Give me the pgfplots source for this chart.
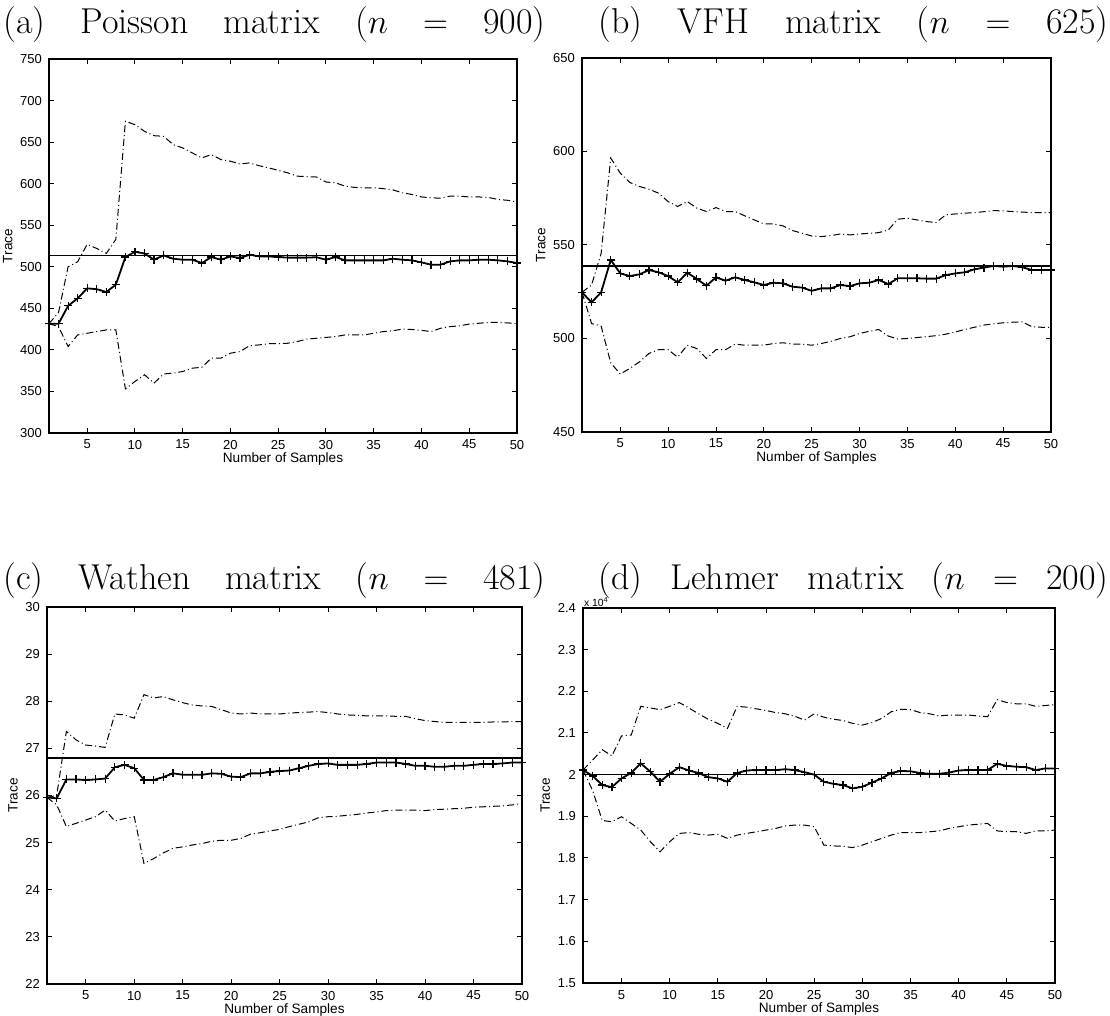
\documentclass[border=0pt]{standalone}
\usepackage{fontspec}
\newfontfamily\hv{Liberation Sans}
\usepackage{pgfplots}
\usepackage{pgfplotstable}
\pgfplotsset{compat=1.18}

\pgfplotstableread{
k mean up lo
1 431.5 431.5 431.5
2 431.5 445 428
3 453 500 404
4 462 506 418
5 474 527 420
6 473 522 422
7 469.6 516 424
8 478.5 533 424
9 511.7 675 353
10 518 671 362
11 516 663 370
12 508.5 657.7 360
13 513.7 657 371
14 509.7 647 372
15 508.5 643 374
16 508.5 637 378
17 504.5 631 379
18 511.7 635 390
19 508.5 629 390
20 512.5 627 396
21 510.5 623.6 398
22 514.5 625 405
23 512.5 621.6 406
24 512.5 619 407.5
25 511.7 616 407.5
26 511 613 408
27 511 609 410
28 511 608.5 413
29 511.5 608 414
30 508.5 602 415
31 511.7 601 416
32 507.7 597 418
33 507.7 595.5 418
34 507.7 595 418
35 507.7 595 420
36 507.7 594 422
37 509.7 592.5 423
38 508.5 589 425
39 507.7 587 424.5
40 505.3 584 423.5
41 502.5 583 422
42 502.5 582.5 426
43 506.5 585 428
44 507.7 585 429
45 507.7 584 431
46 508.5 584 432
47 508.5 583.5 433
48 507.7 581 433
49 506.5 580 432.5
50 504.5 578 431.5
}\tabA

\pgfplotstableread{
k mean up lo
1 524.7 524.7 524.7
2 519.3 528.6 508
3 524.7 545.5 506.6
4 542 596.5 487
5 534.8 588.4 481
6 533.4 583.4 484
7 534.3 581.3 487.5
8 536.6 579.8 492
9 535.4 577.7 494
10 533.4 573.2 494
11 530 570.6 490
12 535.2 573.2 496.4
13 531.8 569.7 494.6
14 528.2 567.9 489.3
15 532.7 570 494
16 530.9 567.9 494
17 532.7 567.9 497
18 531.3 565.6 496.4
19 530 563.4 496.4
20 528.6 561.3 496.4
21 529.8 561.3 497.3
22 529.5 560.2 497.7
23 527.7 557.7 497
24 527.2 556.3 497
25 525.5 554.8 496.4
26 526.8 554.5 497.3
27 526.8 555 498.5
28 528.6 555.9 500
29 528 555.4 500.9
30 529.5 555.9 502.7
31 529.8 556.2 503.8
32 531.3 556.6 504.8
33 529.1 558 501.3
34 532.2 563.8 499.7
35 532.2 564.3 500
36 532.2 563.4 500.5
37 532 562.5 501
38 532 562 501.5
39 533.9 566.1 502.3
40 534.8 566.6 503.5
41 535.4 567 504.8
42 537 567.3 506
43 537.9 567.8 507.2
44 538.8 568.4 507.8
45 538.4 568.2 508.4
46 538.8 567.9 508.7
47 538.1 567.6 508.9
48 536.6 567.3 506.3
49 536.6 567.3 506
50 536.6 567.3 505.9
}\tabB

\pgfplotstableread{
k mean up lo
1 25.96 25.96 25.96
2 25.94 26.0 25.8
3 26.34 27.36 25.34
4 26.34 27.18 25.41
5 26.33 27.07 25.48
6 26.34 27.05 25.55
7 26.36 27.02 25.69
8 26.6 27.73 25.46
9 26.65 27.71 25.51
10 26.58 27.64 25.55
11 26.33 28.14 24.56
12 26.33 28.07 24.66
13 26.39 28.1 24.78
14 26.47 28.03 24.88
15 26.44 27.97 24.91
16 26.44 27.92 24.95
17 26.44 27.9 24.98
18 26.47 27.89 25.03
19 26.46 27.82 25.05
20 26.4 27.75 25.05
21 26.39 27.73 25.09
22 26.47 27.75 25.18
23 26.47 27.73 25.21
24 26.5 27.73 25.25
25 26.52 27.73 25.28
26 26.53 27.75 25.34
27 26.58 27.76 25.39
28 26.63 27.77 25.44
29 26.67 27.78 25.53
30 26.68 27.76 25.55
31 26.65 27.73 25.56
32 26.65 27.71 25.58
33 26.65 27.70 25.6
34 26.67 27.69 25.63
35 26.7 27.69 25.65
36 26.7 27.69 25.68
37 26.7 27.68 25.69
38 26.67 27.68 25.69
39 26.63 27.63 25.69
40 26.63 27.59 25.68
41 26.61 27.57 25.7
42 26.61 27.55 25.71
43 26.63 27.55 25.72
44 26.63 27.55 25.73
45 26.65 27.55 25.75
46 26.67 27.55 25.76
47 26.67 27.56 25.77
48 26.68 27.56 25.78
49 26.7 27.57 25.8
50 26.7 27.57 25.83
}\tabC

\pgfplotstableread{
k mean up lo
1 2.011 2.011 2.011
2 1.997 2.035 1.962
3 1.975 2.06 1.89
4 1.970 2.045 1.887
5 1.991 2.093 1.899
6 2.004 2.095 1.883
7 2.027 2.164 1.867
8 2.007 2.16 1.839
9 1.983 2.156 1.815
10 2.002 2.164 1.839
11 2.018 2.173 1.859
12 2.010 2.16 1.861
13 2.004 2.146 1.857
14 1.994 2.133 1.855
15 1.991 2.123 1.857
16 1.983 2.111 1.847
17 2.004 2.164 1.855
18 2.010 2.162 1.859
19 2.011 2.158 1.863
20 2.011 2.154 1.867
21 2.011 2.149 1.871
22 2.013 2.146 1.877
23 2.011 2.14 1.879
24 2.006 2.131 1.879
25 2.0 2.146 1.875
26 1.983 2.138 1.831
27 1.978 2.133 1.829
28 1.975 2.13 1.828
29 1.967 2.123 1.825
30 1.971 2.119 1.831
31 1.981 2.125 1.839
32 1.991 2.135 1.847
33 2.004 2.151 1.855
34 2.009 2.157 1.861
35 2.008 2.156 1.861
36 2.004 2.149 1.861
37 2.002 2.146 1.863
38 2.002 2.141 1.865
39 2.005 2.143 1.871
40 2.010 2.143 1.875
41 2.011 2.143 1.879
42 2.011 2.141 1.881
43 2.011 2.139 1.883
44 2.026 2.18 1.865
45 2.021 2.173 1.863
46 2.019 2.17 1.863
47 2.018 2.17 1.859
48 2.011 2.164 1.865
49 2.015 2.166 1.865
50 2.015 2.168 1.867
}\tabD

\pgfplotsset{
  trace/.style={
    scale only axis, anchor=south west,
    xmin=1, xmax=50, xtick={5,10,...,50},
    tick align=inside, xtick pos=both, ytick pos=both,
    xticklabel pos=lower, yticklabel pos=left,
    major tick length=2.5pt,
    every tick/.style={black, line width=0.5pt},
    axis line style={line width=0.7pt},
    tick label style={font=\hv\fontsize{6.5}{7}\selectfont},
    /pgf/number format/assume math mode=true,
    label style={font=\hv\fontsize{6.8}{8}\selectfont},
    xlabel={Number of Samples}, ylabel={Trace},
    xlabel style={yshift=5pt},
    ylabel style={yshift=-3pt},
  },
  exact/.style={black, line width=0.8pt, no marks},
  mean/.style={black, line width=0.9pt, mark=+, mark size=2pt, mark options={line width=0.6pt, solid}},
  bound/.style={black, line width=0.5pt, no marks, dash pattern=on 3.5pt off 1.5pt on 0.5pt off 1.5pt},
}

\newcommand\ttl[2]{\makebox[#1][s]{\fontsize{18}{20}\selectfont #2}}

\begin{document}
\begin{tikzpicture}
\useasboundingbox (0,0) rectangle (555pt,508pt);

% titles
\node[anchor=base west, inner sep=0] at (1.5pt,491pt) {\ttl{271pt}{(a) Poisson matrix ($n$ $=$ 900)}};
\node[anchor=base west, inner sep=0] at (299pt,491pt) {\ttl{255pt}{(b) VFH matrix ($n$ $=$ 625)}};
\node[anchor=base west, inner sep=0] at (1.5pt,213pt) {\ttl{271pt}{(c) Wathen matrix ($n$ $=$ 481)}};
\node[anchor=base west, inner sep=0] at (299pt,213pt) {\ttl{255pt}{(d) Lehmer matrix ($n$ $=$ 200)}};

% (a)
\begin{axis}[trace, at={(24.5pt,291.5pt)}, width=234pt, height=187pt,
  ymin=300, ymax=750, ytick={300,350,...,750}]
\addplot[exact] coordinates {(1,513.4) (50,513.4)};
\addplot[bound] table[x=k,y=up] {\tabA};
\addplot[bound] table[x=k,y=lo] {\tabA};
\addplot[mean] table[x=k,y=mean] {\tabA};
\end{axis}

% (b)
\begin{axis}[trace, at={(291pt,292pt)}, width=234.5pt, height=187pt,
  ymin=450, ymax=650, ytick={450,500,...,650}]
\addplot[exact] coordinates {(1,538.7) (50,538.7)};
\addplot[bound] table[x=k,y=up] {\tabB};
\addplot[bound] table[x=k,y=lo] {\tabB};
\addplot[mean] table[x=k,y=mean] {\tabB};
\end{axis}

% (c)
\begin{axis}[trace, at={(23.5pt,16pt)}, width=237.5pt, height=188.5pt,
  ymin=22, ymax=30, ytick={22,23,...,30}]
\addplot[exact] coordinates {(1,26.8) (50,26.8)};
\addplot[bound] table[x=k,y=up] {\tabC};
\addplot[bound] table[x=k,y=lo] {\tabC};
\addplot[mean] table[x=k,y=mean] {\tabC};
\end{axis}

% (d)
\begin{axis}[trace, name=axd, at={(291.5pt,16.5pt)}, width=236pt, height=187.5pt,
  ymin=1.5, ymax=2.4, ytick={1.5,1.6,1.7,1.8,1.9,2.0,2.1,2.2,2.3,2.4},
  yticklabels={1.5,1.6,1.7,1.8,1.9,2,2.1,2.2,2.3,2.4}]
\addplot[exact] coordinates {(1,2.0) (50,2.0)};
\addplot[bound] table[x=k,y=up] {\tabD};
\addplot[bound] table[x=k,y=lo] {\tabD};
\addplot[mean] table[x=k,y=mean] {\tabD};
\end{axis}
\node[anchor=south west, inner sep=0.3pt, font=\hv\fontsize{5.2}{6}\selectfont] at (291.5pt,204.3pt) {x 10\textsuperscript{4}};
\end{tikzpicture}
\end{document}
